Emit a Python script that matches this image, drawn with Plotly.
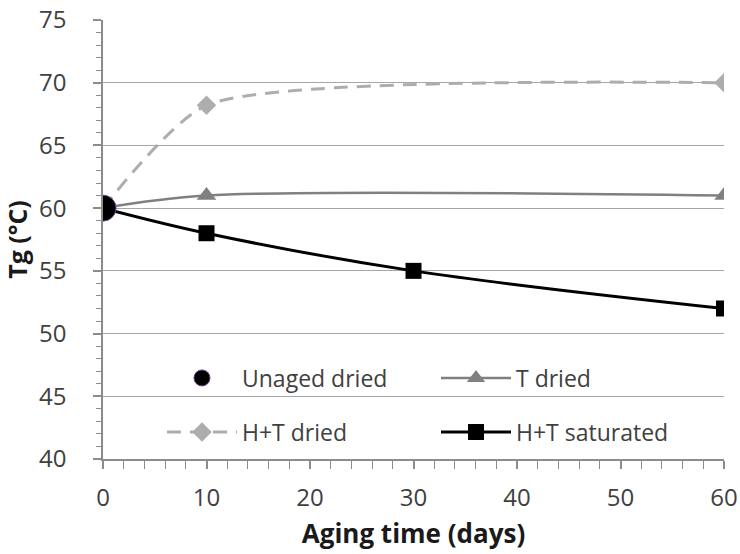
import plotly.graph_objects as go

# Data
unaged_x = [0]
unaged_y = [60]
t_dried_x = [0, 10, 60]
t_dried_y = [60, 61, 61]
ht_dried_x = [0, 10, 60]
ht_dried_y = [60, 68.2, 70]
ht_sat_x = [0, 10, 30, 60]
ht_sat_y = [60, 58, 55, 52]

x_ticks = [0, 10, 20, 30, 40, 50, 60]
y_ticks = [40, 45, 50, 55, 60, 65, 70, 75]

FONT = "Open Sans"
LEG_FONT = dict(family=FONT, size=23, color="#404040")

fig = go.Figure()
fig.add_trace(go.Scatter(
    x=t_dried_x, y=t_dried_y, name="T dried", mode="lines+markers",
    line=dict(color="#808080", width=2.5, shape="spline", smoothing=0.9),
    marker=dict(symbol="triangle-up", size=17, color="#808080"),
    legend="legend", legendrank=2))
fig.add_trace(go.Scatter(
    x=ht_dried_x, y=ht_dried_y, name="H+T dried", mode="lines+markers",
    line=dict(color="#ADADAD", width=3, dash="14px,9px", shape="spline", smoothing=0.6),
    marker=dict(symbol="diamond", size=15, color="#ADADAD"),
    legend="legend2", legendrank=3))
fig.add_trace(go.Scatter(
    x=ht_sat_x, y=ht_sat_y, name="H+T saturated", mode="lines+markers",
    line=dict(color="#000000", width=3, shape="spline", smoothing=1),
    marker=dict(symbol="square", size=16, color="#000000"),
    legend="legend2", legendrank=4))
fig.add_trace(go.Scatter(
    x=unaged_x, y=unaged_y, name="Unaged dried", mode="markers",
    marker=dict(symbol="circle", size=26, color="#000000",
                line=dict(color="#6A3D8A", width=1)),
    legend="legend", legendrank=1))

leg_common = dict(
    orientation="h", xanchor="left", yanchor="middle",
    bgcolor="rgba(0,0,0,0)", itemwidth=70, entrywidth=189, entrywidthmode="pixels",
    font=LEG_FONT, itemsizing="trace",
)

fig.update_layout(
    width=740, height=554,
    margin=dict(l=103, r=16, t=20, b=95),
    paper_bgcolor="white", plot_bgcolor="white",
    font=dict(family=FONT, color="#404040"),
    showlegend=True,
    legend=dict(x=0.095, y=0.1845, **leg_common),
    legend2=dict(x=0.095, y=0.0615, **leg_common),
    shapes=[dict(type="rect", xref="paper", yref="paper",
                 x0=0.0628, x1=0.948, y0=0.02, y1=0.255,
                 fillcolor="white", line=dict(width=0), layer="between")],
    xaxis=dict(
        range=[0, 60], tickvals=x_ticks, showgrid=False, automargin=False,
        ticklabeloverflow="allow",
        showline=True, linecolor="#8C8C8C", linewidth=1.5,
        ticks="outside", ticklen=8, tickcolor="#8C8C8C", tickwidth=1.5,
        minor=dict(dtick=2, ticks="outside", ticklen=8, tickcolor="#8C8C8C", tickwidth=1),
        tickfont=dict(family=FONT, size=24, color="#404040"),
        ticklabelstandoff=8,
        title=dict(text="<b>Aging time (days)</b>", font=dict(family=FONT, size=26, color="#1A1A1A"), standoff=13),
        zeroline=False,
    ),
    yaxis=dict(
        range=[40, 75], tickvals=y_ticks, showgrid=True, gridcolor="#A6A6A6", gridwidth=1.3,
        automargin=False, ticklabeloverflow="allow",
        showline=True, linecolor="#8C8C8C", linewidth=1.5,
        ticks="outside", ticklen=8, tickcolor="#8C8C8C", tickwidth=1.5,
        minor=dict(dtick=1, ticks="outside", ticklen=5, tickcolor="#8C8C8C", tickwidth=1),
        tickfont=dict(family=FONT, size=24, color="#404040"),
        ticklabelstandoff=22,
        title=dict(text="<b>Tg (°C)</b>", font=dict(family=FONT, size=25, color="#1A1A1A"), standoff=13),
        zeroline=False,
    ),
)

fig.write_html("out.html", config={"displayModeBar": False},
               post_script="document.body.style.margin='0';")
